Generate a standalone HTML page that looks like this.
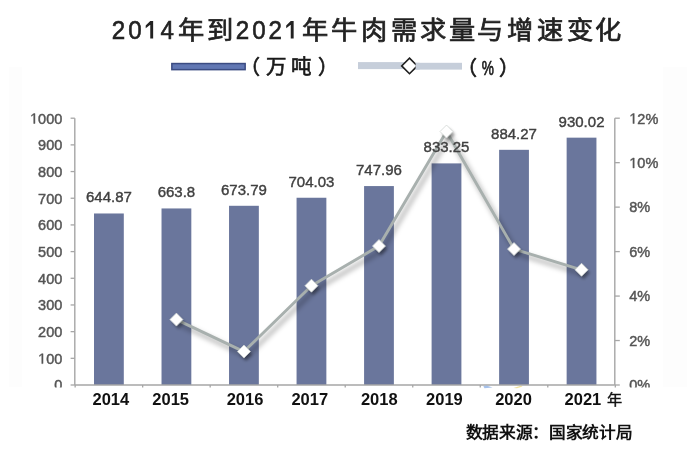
<!DOCTYPE html>
<html lang="zh-CN"><head><meta charset="utf-8">
<style>
html,body{margin:0;padding:0;background:#fff;}
body{width:687px;height:449px;position:relative;overflow:hidden;font-family:"Liberation Sans",sans-serif;}
svg{position:absolute;left:0;top:0;filter:blur(0.35px);}
text{font-family:"Liberation Sans",sans-serif;}
.vl{font-size:15px;fill:#404040;stroke:#404040;stroke-width:0.4px;}
.al{font-size:14.5px;fill:#555;stroke:#555;stroke-width:0.45px;}
.tt{font-size:25.5px;fill:#222;stroke:#222;stroke-width:0.7px;}
.td{font-size:26px;fill:#222;stroke:#222;stroke-width:0.6px;}
.lg{font-size:20.5px;fill:#1a1a1a;stroke:#1a1a1a;stroke-width:0.65px;}
.lp{font-size:20px;fill:#1a1a1a;stroke:#1a1a1a;stroke-width:0.7px;}
.pct{font-size:21px;fill:#1a1a1a;stroke:#1a1a1a;stroke-width:0.75px;}
.sr{font-size:15.6px;font-weight:bold;fill:#111;}
.xl{font-size:16.5px;font-weight:bold;fill:#111;}
.xc{font-size:15.2px;fill:#111;stroke:#111;stroke-width:0.4px;}
</style></head>
<body>
<svg width="687" height="449" viewBox="0 0 687 449">
<defs><filter id="blur" x="-20%" y="-20%" width="140%" height="140%"><feGaussianBlur stdDeviation="2.4"/></filter>
<filter id="blur2" x="-50%" y="-50%" width="200%" height="200%"><feGaussianBlur stdDeviation="1.8"/></filter>
<filter id="soft" x="-20%" y="-20%" width="140%" height="140%"><feGaussianBlur stdDeviation="0.45"/></filter></defs>
<rect x="0" y="0" width="687" height="449" fill="#fff"/>
<line x1="74.8" y1="118.2" x2="74.8" y2="385.0" stroke="#a6a6a6" stroke-width="1.4"/>
<line x1="614.8" y1="118.2" x2="614.8" y2="385.0" stroke="#a6a6a6" stroke-width="1.4"/>
<line x1="70.6" y1="385.00" x2="74.8" y2="385.00" stroke="#a6a6a6" stroke-width="1.3"/>
<line x1="70.6" y1="358.32" x2="74.8" y2="358.32" stroke="#a6a6a6" stroke-width="1.3"/>
<line x1="70.6" y1="331.64" x2="74.8" y2="331.64" stroke="#a6a6a6" stroke-width="1.3"/>
<line x1="70.6" y1="304.96" x2="74.8" y2="304.96" stroke="#a6a6a6" stroke-width="1.3"/>
<line x1="70.6" y1="278.28" x2="74.8" y2="278.28" stroke="#a6a6a6" stroke-width="1.3"/>
<line x1="70.6" y1="251.60" x2="74.8" y2="251.60" stroke="#a6a6a6" stroke-width="1.3"/>
<line x1="70.6" y1="224.92" x2="74.8" y2="224.92" stroke="#a6a6a6" stroke-width="1.3"/>
<line x1="70.6" y1="198.24" x2="74.8" y2="198.24" stroke="#a6a6a6" stroke-width="1.3"/>
<line x1="70.6" y1="171.56" x2="74.8" y2="171.56" stroke="#a6a6a6" stroke-width="1.3"/>
<line x1="70.6" y1="144.88" x2="74.8" y2="144.88" stroke="#a6a6a6" stroke-width="1.3"/>
<line x1="70.6" y1="118.20" x2="74.8" y2="118.20" stroke="#a6a6a6" stroke-width="1.3"/>
<line x1="614.8" y1="385.00" x2="619.8" y2="385.00" stroke="#a6a6a6" stroke-width="1.3"/>
<line x1="614.8" y1="340.53" x2="619.8" y2="340.53" stroke="#a6a6a6" stroke-width="1.3"/>
<line x1="614.8" y1="296.07" x2="619.8" y2="296.07" stroke="#a6a6a6" stroke-width="1.3"/>
<line x1="614.8" y1="251.60" x2="619.8" y2="251.60" stroke="#a6a6a6" stroke-width="1.3"/>
<line x1="614.8" y1="207.13" x2="619.8" y2="207.13" stroke="#a6a6a6" stroke-width="1.3"/>
<line x1="614.8" y1="162.67" x2="619.8" y2="162.67" stroke="#a6a6a6" stroke-width="1.3"/>
<line x1="614.8" y1="118.20" x2="619.8" y2="118.20" stroke="#a6a6a6" stroke-width="1.3"/>
<line x1="75.14" y1="385.0" x2="75.14" y2="389.0" stroke="#a6a6a6" stroke-width="1.3"/>
<line x1="142.66" y1="385.0" x2="142.66" y2="389.0" stroke="#a6a6a6" stroke-width="1.3"/>
<line x1="210.18" y1="385.0" x2="210.18" y2="389.0" stroke="#a6a6a6" stroke-width="1.3"/>
<line x1="277.70" y1="385.0" x2="277.70" y2="389.0" stroke="#a6a6a6" stroke-width="1.3"/>
<line x1="345.22" y1="385.0" x2="345.22" y2="389.0" stroke="#a6a6a6" stroke-width="1.3"/>
<line x1="412.74" y1="385.0" x2="412.74" y2="389.0" stroke="#a6a6a6" stroke-width="1.3"/>
<line x1="480.26" y1="385.0" x2="480.26" y2="389.0" stroke="#a6a6a6" stroke-width="1.3"/>
<line x1="547.78" y1="385.0" x2="547.78" y2="389.0" stroke="#a6a6a6" stroke-width="1.3"/>
<line x1="615.30" y1="385.0" x2="615.30" y2="389.0" stroke="#a6a6a6" stroke-width="1.3"/>
<rect x="94.00" y="213.48" width="29.8" height="171.52" fill="#6a769c"/>
<rect x="161.52" y="208.45" width="29.8" height="176.55" fill="#6a769c"/>
<rect x="229.04" y="205.79" width="29.8" height="179.21" fill="#6a769c"/>
<rect x="296.56" y="197.75" width="29.8" height="187.25" fill="#6a769c"/>
<rect x="364.08" y="186.07" width="29.8" height="198.93" fill="#6a769c"/>
<rect x="431.60" y="163.39" width="29.8" height="221.61" fill="#6a769c"/>
<rect x="499.12" y="149.82" width="29.8" height="235.18" fill="#6a769c"/>
<rect x="566.64" y="137.66" width="29.8" height="247.34" fill="#6a769c"/>
<line x1="74.8" y1="385.0" x2="614.8" y2="385.0" stroke="#a6a6a6" stroke-width="1.5"/>
<path d="M176.42,319.62 L243.94,351.57 L311.46,285.71 L378.98,246.08 L446.50,131.54 L514.02,249.08 L581.54,269.79" fill="none" stroke="#000" stroke-opacity="0.28" stroke-width="4" transform="translate(3,4.5)" filter="url(#blur)"/>
<path d="M176.42,319.62 L243.94,351.57 L311.46,285.71 L378.98,246.08 L446.50,131.54 L514.02,249.08 L581.54,269.79" fill="none" stroke="#a8b0ae" stroke-width="2.9" stroke-linejoin="round" filter="url(#soft)"/>
<path d="M176.42,313.12 L182.92,319.62 L176.42,326.12 L169.92,319.62 Z" fill="#000" fill-opacity="0.35" transform="translate(2,3)" filter="url(#blur2)"/>
<path d="M176.42,313.12 L182.92,319.62 L176.42,326.12 L169.92,319.62 Z" fill="#fff" stroke="#d0d5d3" stroke-width="0.8" filter="url(#soft)"/>
<path d="M243.94,345.07 L250.44,351.57 L243.94,358.07 L237.44,351.57 Z" fill="#000" fill-opacity="0.35" transform="translate(2,3)" filter="url(#blur2)"/>
<path d="M243.94,345.07 L250.44,351.57 L243.94,358.07 L237.44,351.57 Z" fill="#fff" stroke="#d0d5d3" stroke-width="0.8" filter="url(#soft)"/>
<path d="M311.46,279.21 L317.96,285.71 L311.46,292.21 L304.96,285.71 Z" fill="#000" fill-opacity="0.35" transform="translate(2,3)" filter="url(#blur2)"/>
<path d="M311.46,279.21 L317.96,285.71 L311.46,292.21 L304.96,285.71 Z" fill="#fff" stroke="#d0d5d3" stroke-width="0.8" filter="url(#soft)"/>
<path d="M378.98,239.58 L385.48,246.08 L378.98,252.58 L372.48,246.08 Z" fill="#000" fill-opacity="0.35" transform="translate(2,3)" filter="url(#blur2)"/>
<path d="M378.98,239.58 L385.48,246.08 L378.98,252.58 L372.48,246.08 Z" fill="#fff" stroke="#d0d5d3" stroke-width="0.8" filter="url(#soft)"/>
<path d="M446.50,125.04 L453.00,131.54 L446.50,138.04 L440.00,131.54 Z" fill="#000" fill-opacity="0.35" transform="translate(2,3)" filter="url(#blur2)"/>
<path d="M446.50,125.04 L453.00,131.54 L446.50,138.04 L440.00,131.54 Z" fill="#fff" stroke="#d0d5d3" stroke-width="0.8" filter="url(#soft)"/>
<path d="M514.02,242.58 L520.52,249.08 L514.02,255.58 L507.52,249.08 Z" fill="#000" fill-opacity="0.35" transform="translate(2,3)" filter="url(#blur2)"/>
<path d="M514.02,242.58 L520.52,249.08 L514.02,255.58 L507.52,249.08 Z" fill="#fff" stroke="#d0d5d3" stroke-width="0.8" filter="url(#soft)"/>
<path d="M581.54,263.29 L588.04,269.79 L581.54,276.29 L575.04,269.79 Z" fill="#000" fill-opacity="0.35" transform="translate(2,3)" filter="url(#blur2)"/>
<path d="M581.54,263.29 L588.04,269.79 L581.54,276.29 L575.04,269.79 Z" fill="#fff" stroke="#d0d5d3" stroke-width="0.8" filter="url(#soft)"/>
<text x="108.90" y="202.38" text-anchor="middle" class="vl">644.87</text>
<text x="176.42" y="197.35" text-anchor="middle" class="vl">663.8</text>
<text x="243.94" y="194.69" text-anchor="middle" class="vl">673.79</text>
<text x="311.46" y="186.65" text-anchor="middle" class="vl">704.03</text>
<text x="378.98" y="174.97" text-anchor="middle" class="vl">747.96</text>
<text x="446.50" y="152.29" text-anchor="middle" class="vl">833.25</text>
<text x="514.02" y="138.72" text-anchor="middle" class="vl">884.27</text>
<text x="581.54" y="126.56" text-anchor="middle" class="vl">930.02</text>
<text x="62.3" y="390.30" text-anchor="end" class="al">0</text>
<path d="M515,0 L515,1237 L197,1010 L197,1180 L530,1409 L696,1409 L696,0 Z" transform="translate(38.11,363.62) scale(0.00708,-0.00708)" fill="#555" stroke="#555" stroke-width="63.6"/>
<text x="62.3" y="363.62" text-anchor="end" class="al">00</text>
<text x="62.3" y="336.94" text-anchor="end" class="al">200</text>
<text x="62.3" y="310.26" text-anchor="end" class="al">300</text>
<text x="62.3" y="283.58" text-anchor="end" class="al">400</text>
<text x="62.3" y="256.90" text-anchor="end" class="al">500</text>
<text x="62.3" y="230.22" text-anchor="end" class="al">600</text>
<text x="62.3" y="203.54" text-anchor="end" class="al">700</text>
<text x="62.3" y="176.86" text-anchor="end" class="al">800</text>
<text x="62.3" y="150.18" text-anchor="end" class="al">900</text>
<path d="M515,0 L515,1237 L197,1010 L197,1180 L530,1409 L696,1409 L696,0 Z" transform="translate(30.05,123.50) scale(0.00708,-0.00708)" fill="#555" stroke="#555" stroke-width="63.6"/>
<text x="62.3" y="123.50" text-anchor="end" class="al">000</text>
<text x="629.30" y="390.30" class="al">0%</text>
<text x="629.30" y="345.83" class="al">2%</text>
<text x="629.30" y="301.37" class="al">4%</text>
<text x="629.30" y="256.90" class="al">6%</text>
<text x="629.30" y="212.43" class="al">8%</text>
<path d="M515,0 L515,1237 L197,1010 L197,1180 L530,1409 L696,1409 L696,0 Z" transform="translate(629.30,167.97) scale(0.00708,-0.00708)" fill="#555" stroke="#555" stroke-width="63.6"/>
<text x="637.36" y="167.97" class="al">0%</text>
<path d="M515,0 L515,1237 L197,1010 L197,1180 L530,1409 L696,1409 L696,0 Z" transform="translate(629.30,123.50) scale(0.00708,-0.00708)" fill="#555" stroke="#555" stroke-width="63.6"/>
<text x="637.36" y="123.50" class="al">2%</text>
<rect x="9" y="67" width="13" height="320" fill="#fdfdfd"/>
<rect x="663" y="67" width="24" height="320" fill="#fdfdfd"/>
<rect x="0" y="387.5" width="687" height="62" fill="#fff"/>
<path d="M483.3,386.2 L486.5,385.6 L492.5,387.6 L484.5,388.2 Z" fill="#8fb2e6" opacity="0.8"/>
<path d="M513.5,388 L520.5,385.7 L522.6,386.6 L517,388.3 Z" fill="#eedb86" opacity="0.8"/>
<rect x="171.85" y="63.55" width="73.3" height="6.1" fill="#6177b3" stroke="#3b4c82" stroke-width="1.5"/>
<rect x="358" y="62.1" width="51" height="7" fill="#c6ceda"/>
<rect x="409" y="62.8" width="53" height="6.8" fill="#c6ceda"/>
<path d="M409.5,58.1 L417.3,65.9 L409.5,73.7 L401.7,65.9 Z" fill="#fff" stroke="#1e1e1e" stroke-width="1.6"/>
<rect x="415.6" y="62.8" width="4" height="6.8" fill="#c6ceda"/>
<text x="118.60" y="38.7" text-anchor="middle" class="td" transform="translate(118.60,0) scale(0.93,1) translate(-118.60,0)" >2</text>
<text x="135.00" y="38.7" text-anchor="middle" class="td" transform="translate(135.00,0) scale(0.93,1) translate(-135.00,0)" >0</text>
<text x="167.20" y="38.7" text-anchor="middle" class="td" transform="translate(167.20,0) scale(0.93,1) translate(-167.20,0)" >4</text>
<text x="190.80" y="38.7" text-anchor="middle" class="tt" transform="translate(190.80,0) scale(1.03,1) translate(-190.80,0)" >年</text>
<text x="220.00" y="38.7" text-anchor="middle" class="tt" transform="translate(220.00,0) scale(1.03,1) translate(-220.00,0)" >到</text>
<text x="242.50" y="38.7" text-anchor="middle" class="td" transform="translate(242.50,0) scale(0.93,1) translate(-242.50,0)" >2</text>
<text x="259.00" y="38.7" text-anchor="middle" class="td" transform="translate(259.00,0) scale(0.93,1) translate(-259.00,0)" >0</text>
<text x="275.30" y="38.7" text-anchor="middle" class="td" transform="translate(275.30,0) scale(0.93,1) translate(-275.30,0)" >2</text>
<text x="314.90" y="38.7" text-anchor="middle" class="tt" transform="translate(314.90,0) scale(1.03,1) translate(-314.90,0)" >年</text>
<text x="343.90" y="38.7" text-anchor="middle" class="tt" transform="translate(343.90,0) scale(1.03,1) translate(-343.90,0)" >牛</text>
<text x="373.90" y="38.7" text-anchor="middle" class="tt" transform="translate(373.90,0) scale(1.03,1) translate(-373.90,0)" >肉</text>
<text x="404.20" y="38.7" text-anchor="middle" class="tt" transform="translate(404.20,0) scale(1.03,1) translate(-404.20,0)" >需</text>
<text x="433.00" y="38.7" text-anchor="middle" class="tt" transform="translate(433.00,0) scale(1.03,1) translate(-433.00,0)" >求</text>
<text x="462.50" y="38.7" text-anchor="middle" class="tt" transform="translate(462.50,0) scale(1.03,1) translate(-462.50,0)" >量</text>
<text x="490.30" y="38.7" text-anchor="middle" class="tt" transform="translate(490.30,0) scale(1.03,1) translate(-490.30,0)" >与</text>
<text x="519.80" y="38.7" text-anchor="middle" class="tt" transform="translate(519.80,0) scale(1.03,1) translate(-519.80,0)" >增</text>
<text x="549.80" y="38.7" text-anchor="middle" class="tt" transform="translate(549.80,0) scale(1.03,1) translate(-549.80,0)" >速</text>
<text x="579.80" y="38.7" text-anchor="middle" class="tt" transform="translate(579.80,0) scale(1.03,1) translate(-579.80,0)" >变</text>
<text x="608.20" y="38.7" text-anchor="middle" class="tt" transform="translate(608.20,0) scale(1.03,1) translate(-608.20,0)" >化</text>
<path d="M150.25,38.6 V21.1 H153.15 V38.6 Z M150.25,21.1 L145.70,25.4 L145.70,28.3 L150.25,24.8 Z" fill="#222"/>
<path d="M290.75,38.6 V21.1 H293.65 V38.6 Z M290.75,21.1 L286.20,25.4 L286.20,28.3 L290.75,24.8 Z" fill="#222"/>
<text x="250.00" y="73.9" text-anchor="middle" class="lp" >（</text>
<text x="275.80" y="73.9" text-anchor="middle" class="lg" >万</text>
<text x="301.00" y="73.9" text-anchor="middle" class="lg" >吨</text>
<text x="327.60" y="73.9" text-anchor="middle" class="lp" >）</text>
<text x="467.30" y="74.5" text-anchor="middle" class="lp" >（</text>
<text x="509.00" y="74.5" text-anchor="middle" class="lp" >）</text>
<text x="487.8" y="75.2" text-anchor="middle" class="pct" transform="translate(487.8,0) scale(0.65,1) translate(-487.8,0)">%</text>
<text x="474.00" y="438.0" text-anchor="middle" class="sr" transform="translate(474.00,0) scale(1.07,1) translate(-474.00,0)" >数</text>
<text x="490.65" y="438.0" text-anchor="middle" class="sr" transform="translate(490.65,0) scale(1.07,1) translate(-490.65,0)" >据</text>
<text x="507.30" y="438.0" text-anchor="middle" class="sr" transform="translate(507.30,0) scale(1.07,1) translate(-507.30,0)" >来</text>
<text x="523.95" y="438.0" text-anchor="middle" class="sr" transform="translate(523.95,0) scale(1.07,1) translate(-523.95,0)" >源</text>
<text x="540.60" y="438.0" text-anchor="middle" class="sr" transform="translate(540.60,0) scale(1.07,1) translate(-540.60,0)" >：</text>
<text x="557.25" y="438.0" text-anchor="middle" class="sr" transform="translate(557.25,0) scale(1.07,1) translate(-557.25,0)" >国</text>
<text x="573.90" y="438.0" text-anchor="middle" class="sr" transform="translate(573.90,0) scale(1.07,1) translate(-573.90,0)" >家</text>
<text x="590.55" y="438.0" text-anchor="middle" class="sr" transform="translate(590.55,0) scale(1.07,1) translate(-590.55,0)" >统</text>
<text x="607.20" y="438.0" text-anchor="middle" class="sr" transform="translate(607.20,0) scale(1.07,1) translate(-607.20,0)" >计</text>
<text x="623.85" y="438.0" text-anchor="middle" class="sr" transform="translate(623.85,0) scale(1.07,1) translate(-623.85,0)" >局</text>
<text x="92.50" y="404.6" class="xl">2014</text>
<text x="152.30" y="404.6" class="xl">2015</text>
<text x="226.70" y="404.6" class="xl">2016</text>
<text x="291.40" y="404.6" class="xl">2017</text>
<text x="360.90" y="404.6" class="xl">2018</text>
<text x="426.10" y="404.6" class="xl">2019</text>
<text x="495.20" y="404.6" class="xl">2020</text>
<text x="564.60" y="404.6" class="xl">2021</text>
<text x="614.6" y="404.6" text-anchor="middle" class="xc">年</text>
</svg>
</body></html>
